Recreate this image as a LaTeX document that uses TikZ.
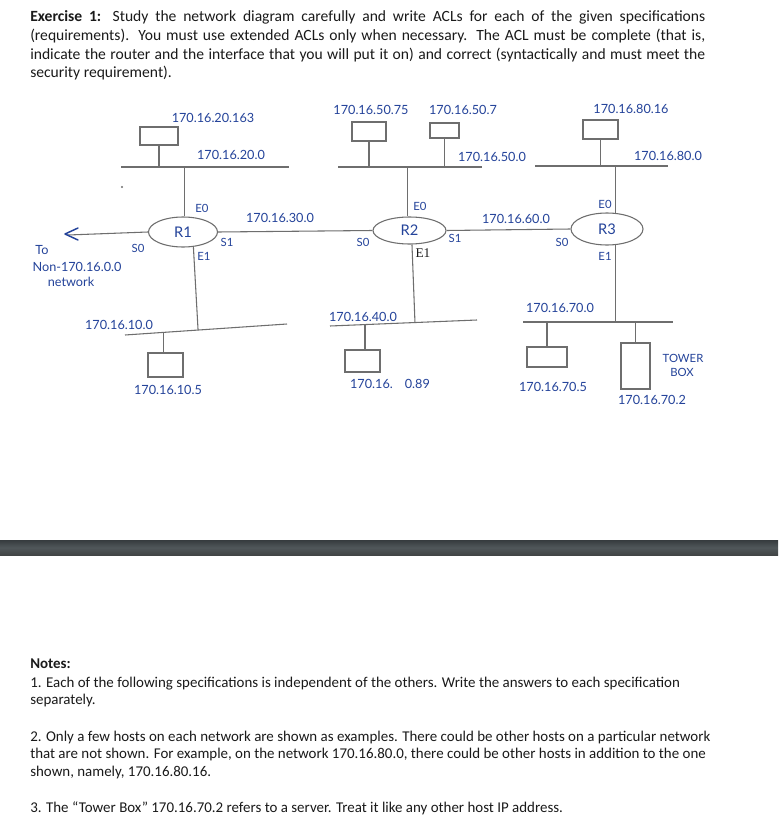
\documentclass[tikz,border=0pt]{standalone}
\usepackage{fontspec}
\setmainfont{Carlito}
\newfontfamily\hand{Lato}
\newfontfamily\typed{Liberation Serif}
\usetikzlibrary{shapes.geometric,calc}
\definecolor{hblue}{HTML}{24439A}
\definecolor{wiregray}{HTML}{6E6E6E}
\definecolor{ink}{HTML}{1A1A1A}
\definecolor{barA}{HTML}{363B3E}
\definecolor{barB}{HTML}{50575A}
\definecolor{barC}{HTML}{414545}
\begin{document}
\begin{tikzpicture}[x=0.75pt,y=-0.75pt,
  wire/.style={draw=wiregray, line width=0.8pt},
  host/.style={draw=wiregray, line width=0.8pt, rectangle, inner sep=0pt},
  router/.style={draw=wiregray, line width=0.8pt, ellipse, inner sep=0pt, text=hblue, font=\hand\fontsize{11}{13}\selectfont},
  lbl/.style={text=hblue, inner sep=0pt, font=\hand\fontsize{9.5}{11}\selectfont},
  ifc/.style={text=hblue, inner sep=0pt, font=\hand\fontsize{8.5}{10}\selectfont},
  txt/.style={text=ink, inner sep=0pt, anchor=base west, font=\fontsize{11.7}{14}\selectfont},
  note/.style={text=ink, inner sep=0pt, anchor=base west, font=\fontsize{11.2}{14}\selectfont}]
\useasboundingbox (0,0) rectangle (778,820);
\fill[white] (0,0) rectangle (778,820);

% ---------- intro text ----------
\node[txt] (p1) at (30,22) {\makebox[506.25pt][s]{\textbf{Exercise 1:} Study the network diagram carefully and write ACLs for each of the given specifications}};
\node[txt] (p2) at (30,40.7) {\makebox[506.25pt][s]{(requirements). You must use extended ACLs only when necessary. The ACL must be complete (that is,}};
\node[txt] (p3) at (30,59.4) {\makebox[506.25pt][s]{indicate the router and the interface that you will put it on) and correct (syntactically and must meet the}};
\node[txt] (p4) at (30,78) {security requirement).};

% ---------- routers ----------
\node[router, minimum width=51.75pt, minimum height=22.5pt] (R1) at (183,232) {R1};
\node[router, minimum width=54.75pt, minimum height=20.25pt] (R2) at (409.5,230.5) {R2};
\node[router, minimum width=54pt, minimum height=24pt] (R3) at (607,229) {R3};

% ---------- buses ----------
\coordinate (b20a) at (121,167); \coordinate (b20b) at (289,167);
\coordinate (b50a) at (338,167); \coordinate (b50b) at (482,167);
\coordinate (b80a) at (535,166); \coordinate (b80b) at (668,166);
\coordinate (b10a) at (125,335); \coordinate (b10b) at (287,324);
\coordinate (b40a) at (330,326); \coordinate (b40b) at (477,320);
\coordinate (b70a) at (523,322); \coordinate (b70b) at (673,322);
\draw[wire] (b20a) -- (b20b);
\draw[wire] (b50a) -- (b50b);
\draw[wire] (b80a) -- (b80b);
\draw[wire] (b10a) -- (b10b);
\draw[wire] (b40a) -- (b40b);
\draw[wire] (b70a) -- (b70b);

% ---------- hosts ----------
\node[host, minimum width=28.5pt, minimum height=13.5pt] (h20) at (159,136) {};
\node[host, minimum width=25.5pt, minimum height=14.25pt] (h5075) at (369,131.5) {};
\node[host, minimum width=21.75pt, minimum height=11.25pt] (h507) at (444.5,130.5) {};
\node[host, minimum width=26.25pt, minimum height=14.25pt] (h8016) at (600.5,129.5) {};
\node[host, minimum width=26.25pt, minimum height=18pt] (h105) at (165.5,365) {};
\node[host, minimum width=26.25pt, minimum height=16.5pt] (h4089) at (362.5,361) {};
\node[host, minimum width=30pt, minimum height=15pt] (h705) at (547,357) {};
\node[host, minimum width=21.75pt, minimum height=34.5pt] (tower) at (635.5,366) {};

\draw[wire] (h20.south) -- (h20.south |- b20a);
\draw[wire] (h5075.south) -- (h5075.south |- b50a);
\draw[wire] (h507.south) -- (h507.south |- b50a);
\draw[wire] (h8016.south) -- (h8016.south |- b80a);
\coordinate (t10h) at ($(b10a)!0.235!(b10b)$);
\coordinate (t10r) at ($(b10a)!0.451!(b10b)$);
\coordinate (t40h) at ($(b40a)!0.238!(b40b)$);
\coordinate (t40r) at ($(b40a)!0.578!(b40b)$);
\draw[wire] (t10h) -- (t10h |- h105.north);
\draw[wire] (t40h) -- (t40h |- h4089.north);
\draw[wire] (h705.north) -- (h705.north |- b70a);
\draw[wire] (tower.north) -- (tower.north |- b70a);

% ---------- router links ----------
\draw[wire] (R1.85) -- (R1.85 |- b20a);
\draw[wire] (R1.-55) -- (t10r);
\draw[wire] (R2.97) -- (R2.97 |- b50a);
\draw[wire] (R2.-80) -- (t40r);
\draw[wire] (R3.62) -- (R3.62 |- b80a);
\draw[wire] (R3.-62) -- (R3.-62 |- b70a);
\draw[wire] (R1.east) -- (R2.west);
\draw[wire] (R2.east) -- (R3.west);
\coordinate (away) at (68,235);
\draw[wire] (R1.west) -- (away);
\draw[hblue, line width=1.1pt, line cap=round, line join=round] ([shift={(10,-7)}]away) -- ([shift={(-3,-1)}]away) -- ([shift={(10,5)}]away);

\fill[wiregray] (122,187) circle (0.9pt);

% ---------- labels ----------
\node[lbl] (l20163) at (213,118) {170.16.20.163};
\node[lbl] (l200) at (231,155) {170.16.20.0};
\node[lbl] (l5075) at (371,110) {170.16.50.75};
\node[lbl] (l507) at (463,110) {170.16.50.7};
\node[lbl] (l500) at (492,157) {170.16.50.0};
\node[lbl] (l8016) at (631,109) {170.16.80.16};
\node[lbl] (l800) at (668,156) {170.16.80.0};
\node[lbl] (l300) at (280,218) {170.16.30.0};
\node[lbl] (l600) at (516,219) {170.16.60.0};
\node[lbl] (l100) at (119,325) {170.16.10.0};
\node[lbl] (l105) at (168,390) {170.16.10.5};
\node[lbl] (l400) at (363,317) {170.16.40.0};
\node[lbl] (l4089) at (390,384) {170.16.\hspace{9pt}0.89};
\node[lbl] (l700) at (560,308) {170.16.70.0};
\node[lbl] (l705) at (553,387) {170.16.70.5};
\node[lbl] (l702) at (652,400) {170.16.70.2};
\node[ifc] (ltower) at (683,358) {TOWER};
\node[ifc] (lbox) at (682,372) {BOX};
\node[lbl] (lto) at (42,250) {To};
\node[lbl] (lnon) at (77,267) {Non-170.16.0.0};
\node[lbl] (lnet) at (71,282) {network};

\node[ifc] (r1e0) at (202,208) {E0};
\node[ifc] (r1s1) at (227,242) {S1};
\node[ifc] (r1e1) at (204,256) {E1};
\node[ifc] (r1s0) at (138,248) {S0};
\node[ifc] (r2e0) at (420,206) {E0};
\node[ifc] (r2s0) at (363,242) {S0};
\node[ifc] (r2s1) at (455,238) {S1};
\node[inner sep=0pt, text=ink, font=\typed\fontsize{10}{12}\selectfont] (r2e1) at (423,253) {E1};
\node[ifc] (r3e0) at (605,204) {E0};
\node[ifc] (r3s0) at (562,242) {S0};
\node[ifc] (r3e1) at (605,256) {E1};

% ---------- divider bar ----------
\shade[top color=barA, bottom color=barC, middle color=barB] (0,540) rectangle (778,555);

% ---------- notes ----------
\node[note] (n0) at (30,668) {\textbf{Notes:}};
\node[note] (n1) at (30,687) {1. Each of the following specifications is independent of the others. Write the answers to each specification};
\node[note] (n1b) at (30,704.5) {separately.};
\node[note] (n2) at (30,741) {2. Only a few hosts on each network are shown as examples. There could be other hosts on a particular network};
\node[note] (n2b) at (30,758.5) {that are not shown. For example, on the network 170.16.80.0, there could be other hosts in addition to the one};
\node[note] (n2c) at (30,776) {shown, namely, 170.16.80.16.};
\node[note] (n3) at (30,812) {3. The “Tower Box” 170.16.70.2 refers to a server. Treat it like any other host IP address.};
\end{tikzpicture}
\end{document}
